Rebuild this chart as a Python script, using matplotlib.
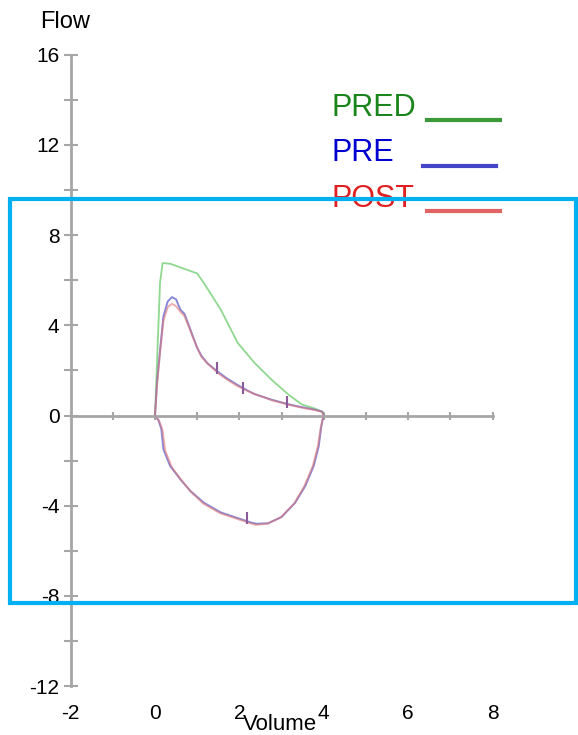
import matplotlib.pyplot as plt
import numpy as np
from matplotlib.lines import Line2D
from matplotlib.patches import Rectangle

plt.rcParams["font.family"] = ["Liberation Sans", "DejaVu Sans"]
plt.rcParams["axes.unicode_minus"] = False

# Predicted expiratory curve
pred_vol = [0.0, 0.05, 0.12, 0.18, 0.36, 0.7, 1.0, 1.16, 1.56, 1.96, 2.36, 2.76, 3.16, 3.48, 3.8, 4.0]
pred_flow = [0.0, 2.5, 5.9, 6.76, 6.73, 6.5, 6.3, 5.87, 4.69, 3.22, 2.33, 1.59, 0.93, 0.49, 0.3, 0.12]

# Pre-bronchodilator loop (expiration then inspiration)
pre_vol = [0.0, 0.05, 0.12, 0.2, 0.3, 0.4, 0.5, 0.6, 0.7, 0.8, 0.9, 1.0, 1.1, 1.25, 1.48,
           1.7, 1.96, 2.2, 2.36, 2.6, 2.76, 3.0, 3.16, 3.4, 3.56, 3.8, 3.96, 4.0,
           3.97, 3.94, 3.88, 3.76, 3.56, 3.32, 3.0, 2.68, 2.4, 2.28, 1.96, 1.56,
           1.16, 0.84, 0.6, 0.36, 0.2, 0.15, 0.08, 0.0]
pre_flow = [0.0, 1.5, 2.9, 4.4, 5.05, 5.25, 5.15, 4.7, 4.5, 4.0, 3.5, 3.0, 2.65, 2.3, 1.95,
            1.65, 1.35, 1.1, 0.95, 0.8, 0.7, 0.58, 0.5, 0.4, 0.34, 0.25, 0.18, 0.0,
            -0.2, -0.5, -1.36, -2.24, -3.13, -3.87, -4.5, -4.78, -4.8, -4.75, -4.55, -4.3,
            -3.87, -3.35, -2.83, -2.24, -1.5, -0.6, -0.2, 0.0]

# Post-bronchodilator loop
post_vol = [0.0, 0.05, 0.12, 0.2, 0.3, 0.4, 0.5, 0.6, 0.7, 0.8, 0.9, 1.0, 1.1, 1.25, 1.48,
            1.7, 1.96, 2.2, 2.36, 2.6, 2.76, 3.0, 3.16, 3.4, 3.56, 3.8, 3.96, 4.0,
            3.97, 3.93, 3.86, 3.74, 3.54, 3.3, 2.98, 2.66, 2.4, 2.26, 1.94, 1.54,
            1.14, 0.86, 0.63, 0.4, 0.24, 0.18, 0.1, 0.0]
post_flow = [0.0, 1.4, 2.8, 4.2, 4.8, 4.95, 4.85, 4.6, 4.4, 3.95, 3.45, 3.0, 2.6, 2.3, 1.9,
             1.6, 1.3, 1.08, 0.95, 0.8, 0.68, 0.56, 0.48, 0.38, 0.32, 0.24, 0.16, 0.0,
             -0.2, -0.5, -1.36, -2.24, -3.13, -3.9, -4.52, -4.8, -4.85, -4.78, -4.58, -4.33,
             -3.9, -3.4, -2.88, -2.3, -1.55, -0.65, -0.25, 0.0]

# Small vertical event marks on the PRE loop
mark_vol = [1.46, 2.09, 3.12, 2.17]
mark_flow = [2.1, 1.2, 0.6, -4.55]

x_ticks = [-2, 0, 2, 4, 6, 8]
y_ticks = [-12, -8, -4, 0, 4, 8, 12, 16]

W, H = 578, 735
fig = plt.figure(figsize=(W / 100, H / 100), dpi=100)
ax = fig.add_axes([0, 0, 1, 1])
ax.set_xlim(-155 / 42.2, (W - 155) / 42.2)
ax.set_ylim((415.5 - H) / 22.55, 415.5 / 22.55)
ax.patch.set_visible(False)

axis_col = "#a6a6a6"
for s in ["top", "right"]:
    ax.spines[s].set_visible(False)
ax.spines["left"].set_position(("data", -2))
ax.spines["left"].set_bounds(-12, 16)
ax.spines["bottom"].set_position(("data", 0))
ax.spines["bottom"].set_bounds(-2, 8)
for s in ["left", "bottom"]:
    ax.spines[s].set_color(axis_col)
    ax.spines[s].set_linewidth(2)

ax.set_yticks(y_ticks)
ax.set_yticklabels([str(v) for v in y_ticks])
ax.set_yticks(np.arange(-10, 16, 4), minor=True)
ax.set_xticks(np.arange(-2, 9, 1))
ax.tick_params(axis="y", which="both", direction="inout", length=10, width=1.5,
               color=axis_col, labelsize=15, pad=3)
ax.tick_params(axis="x", which="both", direction="inout", length=6, width=1.5,
               color=axis_col, labelbottom=False)

# x tick labels sit at the bottom of the figure
for v in x_ticks:
    ax.text(v, -13.2, str(v), ha="center", va="center", fontsize=15)

ax.plot(pred_vol, pred_flow, color="#8fd88f", lw=1.3)
ax.plot(pre_vol, pre_flow, color="#6a6acc", lw=1.4, alpha=0.8)
ax.plot(post_vol, post_flow, color="#e07878", lw=1.4, alpha=0.6)
ax.plot(mark_vol, mark_flow, ls="none", marker="|", ms=8, mew=1.5, color="#8a5a9a")

fig.text(65 / W, 1 - 22 / H, "Flow", ha="center", va="center", fontsize=17)
fig.text(280 / W, 1 - 724 / H, "Volume", ha="center", va="center", fontsize=16)

# legend drawn by hand: label then a line to its right
legend = [("PRED", "#1a851a", "#3a9a3a", 116, 427, 500, 120),
          ("PRE", "#0000d0", "#4444c8", 161, 423, 496, 166),
          ("POST", "#e02020", "#e06464", 207, 427, 500, 211)]
for name, tc, lc, by, x0, x1, ly in legend:
    fig.text(332 / W, 1 - by / H, name, color=tc, fontsize=22, va="baseline", ha="left")
    fig.add_artist(Line2D([x0 / W, x1 / W], [1 - ly / H, 1 - ly / H],
                          color=lc, lw=3, transform=fig.transFigure))

fig.add_artist(Rectangle((10 / W, 1 - 603 / H), 566 / W, 404 / H, fill=False,
                         edgecolor="#00b0f0", lw=3, transform=fig.transFigure, zorder=10))

plt.savefig("out.png", dpi=100)
